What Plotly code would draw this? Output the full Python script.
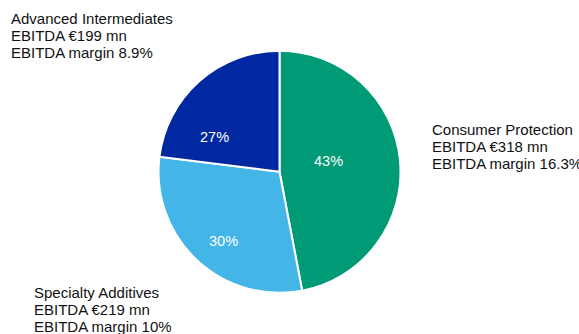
import math
import plotly.graph_objects as go

segments = ["Consumer Protection", "Specialty Additives", "Advanced Intermediates"]
shares = [47, 30, 23]                      # drawn slice sizes
share_labels = ["43%", "30%", "27%"]        # printed shares
ebitda = ["€318 mn", "€219 mn", "€199 mn"]
margins = ["16.3%", "10%", "8.9%"]
colors = ["#009A76", "#43B5E6", "#0028A0"]

# ---- layout / style constants ----
W, H = 579, 334
PIE_CX, PIE_CY, PIE_R = 279.5, 171.8, 121
FONT = "Liberation Sans, Arial, sans-serif"
# label placement inside slices: (radius fraction, angle offset in degrees)
pct_label_place = [(0.417, -7.2), (0.733, -4.3), (0.61, -20.9)]
# outside category labels: left x and centre of first line (px), line step
cat_label_place = {
    "Advanced Intermediates": (9, 19),
    "Consumer Protection": (429.5, 129),
    "Specialty Additives": (31.5, 292),
}
LINE_STEP = 17

fig = go.Figure(go.Pie(
    labels=segments,
    values=shares,
    textinfo="none",
    sort=False,
    direction="clockwise",
    rotation=0,
    marker=dict(colors=colors, line=dict(color="white", width=2)),
    domain=dict(x=[(PIE_CX - PIE_R) / W, (PIE_CX + PIE_R) / W],
                y=[1 - (PIE_CY + PIE_R) / H, 1 - (PIE_CY - PIE_R) / H]),
    showlegend=False,
    hovertext=share_labels,
    hoverinfo="label+text",
))

annotations = []
total = sum(shares)
start = 0.0
for val, lab, (rf, dang) in zip(shares, share_labels, pct_label_place):
    span = 360.0 * val / total
    ang = math.radians(start + span / 2 + dang)
    start += span
    px = PIE_CX + PIE_R * rf * math.sin(ang)
    py = PIE_CY - PIE_R * rf * math.cos(ang)
    annotations.append(dict(
        x=px / W, y=1 - py / H, xref="paper", yref="paper",
        xanchor="center", yanchor="middle", showarrow=False, text=lab,
        font=dict(family=FONT, size=14.5, color="white"),
    ))

for seg, e, m in zip(segments, ebitda, margins):
    lx, ly = cat_label_place[seg]
    for i, line in enumerate([seg, f"EBITDA {e}", f"EBITDA margin {m}"]):
        annotations.append(dict(
            x=lx / W, y=1 - (ly + i * LINE_STEP) / H, xref="paper", yref="paper",
            xanchor="left", yanchor="middle", align="left", showarrow=False,
            text=line, font=dict(family=FONT, size=15, color="#111111"),
        ))

fig.update_layout(
    width=W, height=H,
    margin=dict(l=0, r=0, t=0, b=0),
    paper_bgcolor="white", plot_bgcolor="white",
    annotations=annotations,
)

fig.write_html("out.html", config={"displayModeBar": False},
               post_script="document.body.style.margin='0';")
